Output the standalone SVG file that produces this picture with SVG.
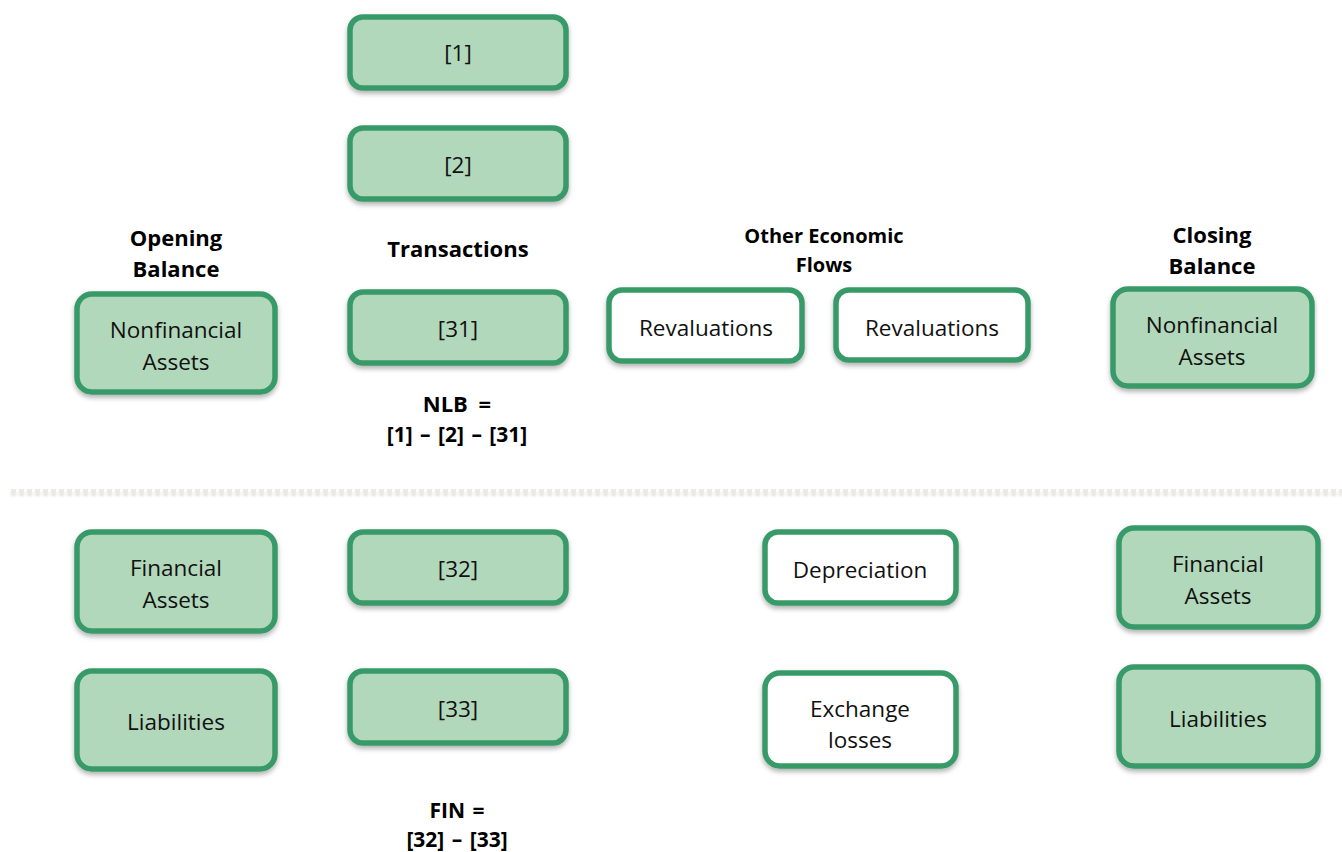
<svg xmlns="http://www.w3.org/2000/svg" width="1342" height="852" viewBox="0 0 1342 852">
  <style>
    .box { stroke: #389a68; stroke-width: 5.5; filter: url(#shadow); }
    .green { fill: #b1d8bb; }
    .white { fill: #ffffff; }
    .lbl { font-family: "Open Sans", "Noto Sans", sans-serif; font-size: 22.5px; fill: #111; text-anchor: middle; }
    .head { font-family: "Open Sans", "Noto Sans", sans-serif; font-weight: bold; font-size: 22px; fill: #000; text-anchor: middle; }
    .head.small { font-size: 20px; }
    .formula { font-family: "Open Sans", "Noto Sans", sans-serif; font-weight: bold; font-size: 21px; fill: #000; text-anchor: middle; word-spacing: 2px; }
    .formula.wide { font-size: 22px; word-spacing: 5px; }
    .divider { stroke: #ecebe1; stroke-width: 4; stroke-dasharray: 5 3; filter: url(#lineShadow); }
  </style>
  <defs>
    <filter id="shadow" x="-10%" y="-10%" width="120%" height="130%">
      <feDropShadow dx="0" dy="3" stdDeviation="2.5" flood-color="#000" flood-opacity="0.3"/>
    </filter>
    <filter id="lineShadow" filterUnits="userSpaceOnUse" x="0" y="480" width="1342" height="25">
      <feDropShadow dx="0" dy="3" stdDeviation="1.5" flood-color="#000" flood-opacity="0.12"/>
    </filter>
  </defs>
  <rect width="1342" height="852" fill="#ffffff"/>

  <!-- column headings -->
  <g id="headings">
    <text class="head" x="176" y="246">Opening</text>
    <text class="head" x="176" y="277">Balance</text>
    <text class="head" x="458" y="257">Transactions</text>
    <text class="head small" x="824" y="243">Other Economic</text>
    <text class="head small" x="824" y="272">Flows</text>
    <text class="head" x="1212" y="243">Closing</text>
    <text class="head" x="1212" y="274">Balance</text>
  </g>

  <!-- connectors: none besides the dashed divider -->
  <g id="connectors">
    <line class="divider" x1="11" y1="491" x2="1342" y2="491"/>
  </g>

  <!-- upper section: nonfinancial -->
  <g id="t1">
    <rect class="box green" x="350" y="17" width="216" height="71" rx="13"/>
    <text class="lbl" x="458" y="61">[1]</text>
  </g>
  <g id="t2">
    <rect class="box green" x="350" y="128" width="216" height="71" rx="13"/>
    <text class="lbl" x="458" y="173">[2]</text>
  </g>
  <g id="open-nonfin">
    <rect class="box green" x="77" y="294" width="198" height="98" rx="15"/>
    <text class="lbl" x="176" y="338">Nonfinancial</text>
    <text class="lbl" x="176" y="370">Assets</text>
  </g>
  <g id="t31">
    <rect class="box green" x="350" y="292" width="216" height="71" rx="13"/>
    <text class="lbl" x="458" y="337">[31]</text>
  </g>
  <g id="reval1">
    <rect class="box white" x="609" y="290" width="193" height="71" rx="13"/>
    <text class="lbl" x="706" y="336">Revaluations</text>
  </g>
  <g id="reval2">
    <rect class="box white" x="836" y="290" width="192" height="70" rx="13"/>
    <text class="lbl" x="932" y="336">Revaluations</text>
  </g>
  <g id="close-nonfin">
    <rect class="box green" x="1113" y="289" width="199" height="97" rx="15"/>
    <text class="lbl" x="1212" y="333">Nonfinancial</text>
    <text class="lbl" x="1212" y="365">Assets</text>
  </g>
  <g id="nlb">
    <text class="formula wide" x="457" y="412">NLB =</text>
    <text class="formula" x="457" y="442">[1] – [2] – [31]</text>
  </g>

  <!-- lower section: financial -->
  <g id="open-fin">
    <rect class="box green" x="77" y="532" width="198" height="99" rx="15"/>
    <text class="lbl" x="176" y="576">Financial</text>
    <text class="lbl" x="176" y="608">Assets</text>
  </g>
  <g id="t32">
    <rect class="box green" x="350" y="532" width="216" height="71" rx="13"/>
    <text class="lbl" x="458" y="577">[32]</text>
  </g>
  <g id="depreciation">
    <rect class="box white" x="765" y="532" width="191" height="71" rx="13"/>
    <text class="lbl" x="860" y="578">Depreciation</text>
  </g>
  <g id="close-fin">
    <rect class="box green" x="1119" y="528" width="199" height="99" rx="15"/>
    <text class="lbl" x="1218" y="572">Financial</text>
    <text class="lbl" x="1218" y="604">Assets</text>
  </g>
  <g id="open-liab">
    <rect class="box green" x="77" y="671" width="198" height="98" rx="15"/>
    <text class="lbl" x="176" y="730">Liabilities</text>
  </g>
  <g id="t33">
    <rect class="box green" x="350" y="671" width="216" height="72" rx="13"/>
    <text class="lbl" x="458" y="717">[33]</text>
  </g>
  <g id="exchange">
    <rect class="box white" x="765" y="673" width="191" height="93" rx="15"/>
    <text class="lbl" x="860" y="717">Exchange</text>
    <text class="lbl" x="860" y="748">losses</text>
  </g>
  <g id="close-liab">
    <rect class="box green" x="1119" y="667" width="199" height="99" rx="15"/>
    <text class="lbl" x="1218" y="727">Liabilities</text>
  </g>
  <g id="fin">
    <text class="formula" x="457" y="818">FIN =</text>
    <text class="formula" x="457" y="847">[32] – [33]</text>
  </g>
</svg>
